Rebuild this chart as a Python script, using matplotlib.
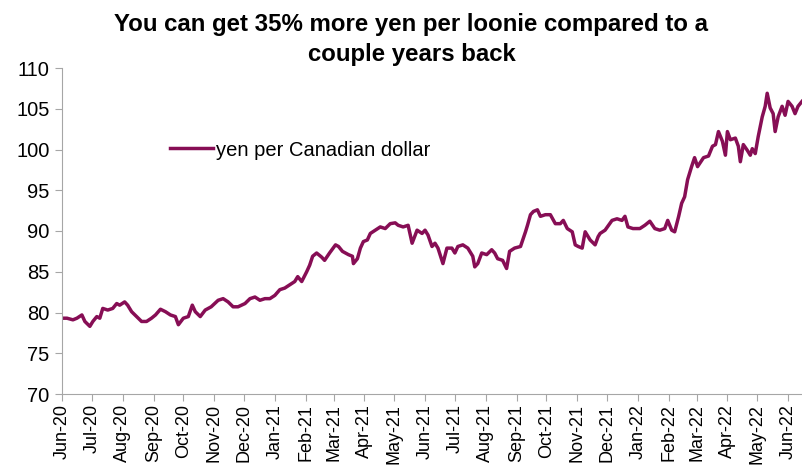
import pandas as pd
import matplotlib
matplotlib.use('Agg')
import matplotlib.pyplot as plt
import matplotlib.dates as mdates

# days after 1 Jun 2020
days = [0, 5, 11, 15, 20, 23, 28, 31, 35, 38,
        41, 46, 51, 55, 58, 63, 66, 70, 75, 80,
        85, 90, 94, 99, 104, 109, 114, 117, 122, 127,
        131, 134, 139, 144, 150, 157, 162, 167, 172, 177,
        184, 189, 194, 199, 204, 209, 214, 219, 224, 229,
        234, 237, 241, 246, 249, 252, 256, 261, 264, 269,
        275, 278, 282, 285, 288, 292, 293, 297, 300, 303,
        307, 310, 315, 320, 325, 330, 335, 338, 343, 348,
        352, 357, 362, 365, 368, 372, 375, 378, 383, 387,
        392, 395, 398, 403, 408, 413, 415, 418, 422, 427,
        432, 435, 438, 443, 447, 450, 455, 461, 466, 468,
        471, 474, 478, 481, 486, 491, 496, 501, 504, 508,
        513, 516, 519, 523, 526, 531, 536, 539, 541, 546,
        553, 558, 563, 566, 569, 574, 581, 586, 591, 596,
        601, 606, 609, 613, 616, 620, 623, 626, 629, 633,
        636, 639, 645, 650, 654, 657, 660, 664, 667, 669,
        672, 677, 680, 682, 685, 689, 692, 694, 697, 700,
        704, 707, 709, 712, 715, 717, 720, 724, 727, 730,
        734, 737, 740, 744]

# yen per Canadian dollar
jpy_per_cad = [79.3, 79.3, 79.1, 79.3, 79.7, 78.9, 78.3, 78.9, 79.5, 79.3,
               80.5, 80.3, 80.5, 81.1, 80.9, 81.3, 80.9, 80.1, 79.5, 78.9,
               78.9, 79.3, 79.7, 80.4, 80.1, 79.7, 79.5, 78.5, 79.3, 79.5,
               80.9, 80.1, 79.5, 80.3, 80.7, 81.5, 81.7, 81.3, 80.7, 80.7,
               81.1, 81.7, 81.9, 81.5, 81.7, 81.7, 82.1, 82.8, 83.0, 83.4,
               83.8, 84.4, 83.8, 85.0, 85.8, 86.9, 87.3, 86.8, 86.4, 87.3,
               88.3, 88.1, 87.5, 87.3, 87.1, 86.9, 86.0, 86.6, 87.9, 88.7,
               88.9, 89.7, 90.1, 90.5, 90.3, 90.9, 91.0, 90.7, 90.5, 90.7,
               88.5, 90.1, 89.7, 90.1, 89.5, 88.1, 88.5, 87.9, 86.0, 87.9,
               87.9, 87.3, 88.1, 88.3, 87.9, 86.9, 85.6, 86.0, 87.3, 87.1,
               87.7, 87.3, 86.6, 86.4, 85.4, 87.5, 87.9, 88.1, 89.9, 90.7,
               92.0, 92.4, 92.6, 91.8, 92.0, 92.0, 90.9, 90.9, 91.3, 90.3,
               89.9, 88.3, 88.1, 87.9, 89.9, 88.9, 88.3, 89.3, 89.7, 90.1,
               91.3, 91.5, 91.3, 91.8, 90.5, 90.3, 90.3, 90.7, 91.2, 90.3,
               90.1, 90.3, 91.3, 90.1, 89.9, 91.8, 93.4, 94.2, 96.3, 97.9,
               99.0, 97.9, 99.0, 99.2, 100.4, 100.6, 102.2, 101.0, 99.3, 102.2,
               101.2, 101.4, 100.4, 98.5, 100.6, 99.9, 99.3, 100.1, 99.5, 101.6,
               104.0, 105.3, 106.9, 105.1, 104.4, 102.2, 104.0, 105.3, 104.2, 105.9,
               105.3, 104.4, 105.3, 105.9]

dates = pd.Timestamp('2020-06-01') + pd.to_timedelta(days, unit='D')

plt.rcParams['font.family'] = ['Liberation Sans', 'DejaVu Sans']
color = '#870E55'
grey = '#A6A6A6'

fig = plt.figure(figsize=(8.02, 4.70), dpi=100)
ax = fig.add_axes([62 / 802, (470 - 394) / 470, 740 / 802, 326 / 470])

ax.plot(dates, jpy_per_cad, color=color, lw=2.5, label='yen per Canadian dollar')

ax.set_xlim(pd.Timestamp('2020-06-01'), pd.Timestamp('2022-06-15'))
ax.set_ylim(70, 110)
ax.set_yticks(range(70, 111, 5))
ax.xaxis.set_major_locator(mdates.MonthLocator())
ax.xaxis.set_major_formatter(mdates.DateFormatter('%b-%y'))
plt.setp(ax.get_xticklabels(), rotation=90)

for s in ['top', 'right']:
    ax.spines[s].set_visible(False)
for s in ['left', 'bottom']:
    ax.spines[s].set_color(grey)
ax.tick_params(colors=grey, labelcolor='black', length=5, direction='out')
ax.tick_params(axis='x', labelsize=13, pad=2)
ax.tick_params(axis='y', labelsize=14.5, pad=4)

ax.legend(loc='center left', bbox_to_anchor=(108 / 740, 244 / 326), frameon=False,
          fontsize=14.5, handlelength=2.15, handletextpad=0.15, borderpad=0, borderaxespad=0)

fig.suptitle('You can get 35% more yen per loonie compared to a\ncouple years back',
             x=0.513, y=0.972, fontsize=17.3, fontweight='bold', linespacing=1.4)

fig.savefig('out.png', dpi=100)
